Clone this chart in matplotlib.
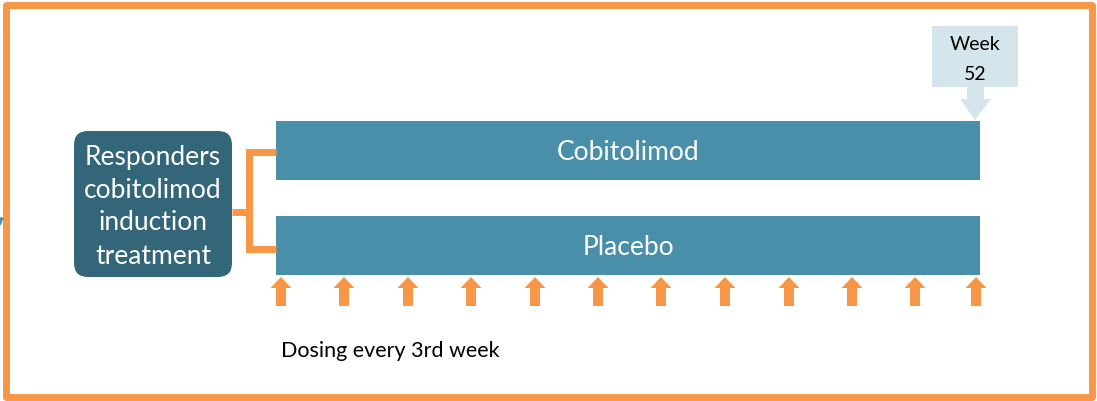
import numpy as np
import matplotlib
import matplotlib.pyplot as plt
from matplotlib.patches import FancyBboxPatch, Rectangle, Polygon

matplotlib.use('Agg')
plt.rcParams['font.family'] = ['Lato', 'DejaVu Sans']

# diagram content
arms = ['Cobitolimod', 'Placebo']
source_lines = ['Responders', 'cobitolimod', 'induction', 'treatment']
end_week = 52
dose_x = [281, 344, 408, 471, 535, 598, 661, 725, 789, 852, 915, 976]
dosing_label = 'Dosing every 3rd week'

orange = '#F79646'
dark_teal = '#346679'
bar_teal = '#4A8FAA'
light_blue = '#D4E5EC'

fig = plt.figure(figsize=(10.97, 4.01), dpi=100)
ax = fig.add_axes([0, 0, 1, 1])
ax.set_xlim(0, 1097)
ax.set_ylim(401, 0)
ax.axis('off')

# outer orange frame
ax.add_patch(Rectangle((5.5, 4.5), 1086, 392.5, fill=False, edgecolor=orange,
                       lw=5, joinstyle='round'))
# small cut-off mark at the left edge
ax.add_patch(Polygon([[0, 218], [3, 218], [0, 225]], color=bar_teal))

# source box
ax.add_patch(FancyBboxPatch((74 + 14, 131 + 14), 158 - 28, 146 - 28,
                            boxstyle='round,pad=14', facecolor=dark_teal, edgecolor='none'))
for i, line in enumerate(source_lines):
    ax.text(153, 157 + i * 33, line, color='white', fontsize=19, ha='center', va='center')

# arm bars
bar_y = [121, 216]
bar_h = 59
bar_x0, bar_x1 = 276, 980
for name, y in zip(arms, bar_y):
    ax.add_patch(Rectangle((bar_x0, y), bar_x1 - bar_x0, bar_h, facecolor=bar_teal, edgecolor='none'))
    ax.text((bar_x0 + bar_x1) / 2, y + bar_h / 2 + 2, name, color='white', fontsize=19,
            ha='center', va='center')

# orange connector
lw_c = 5
ax.plot([232, 249], [212, 212], color=orange, lw=lw_c, solid_capstyle='butt')
ax.plot([249, 249], [152, 249], color=orange, lw=lw_c, solid_capstyle='projecting')
ax.plot([249, 276], [152, 152], color=orange, lw=lw_c, solid_capstyle='butt')
ax.plot([249, 276], [249, 249], color=orange, lw=lw_c, solid_capstyle='butt')

# dosing arrows
for x in dose_x:
    pts = [[x - 5, 306], [x - 5, 288], [x - 10.5, 288], [x, 277],
           [x + 10.5, 288], [x + 5, 288], [x + 5, 306]]
    ax.add_patch(Polygon(pts, closed=True, facecolor=orange, edgecolor='none'))

ax.text(281, 351, dosing_label, fontsize=15.5, ha='left', va='center', color='black')

# week 52 callout
cx = 975
callout = [[932, 26], [1018, 26], [1018, 87], [984, 87], [984, 99], [991, 99], [cx, 120],
           [960, 99], [967, 99], [967, 87], [932, 87]]
ax.add_patch(Polygon(callout, closed=True, facecolor=light_blue, edgecolor='none'))
ax.text(cx, 44, 'Week', fontsize=14, ha='center', va='center', color='black')
ax.text(cx, 74, str(end_week), fontsize=14, ha='center', va='center', color='black')

fig.savefig('out.png', dpi=100)
